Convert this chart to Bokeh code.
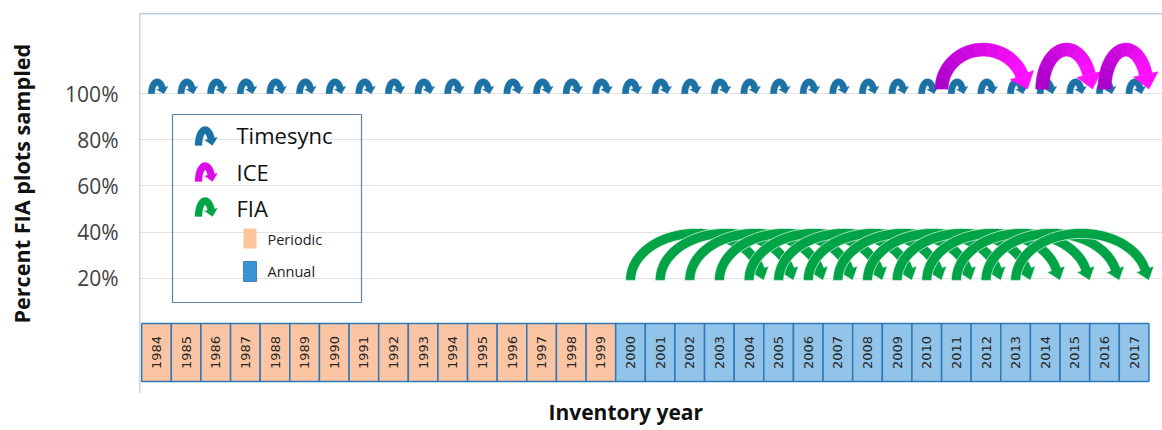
import numpy as np
from bokeh.plotting import figure
from bokeh.models import Range1d, FixedTicker, Title, Span, ColumnDataSource, LinearAxis
from bokeh.core.properties import value
from bokeh.embed import file_html
from bokeh.resources import INLINE

# ---------------- data ----------------
YEARS = list(range(1984, 2018))
PERIODIC_YEARS = list(range(1984, 2000))
ANNUAL_YEARS = list(range(2000, 2018))
TIMESYNC_YEARS = list(range(1984, 2018))
ICE_FROM = [2010.5, 2013.9, 2016.0]
ICE_TO = [2013.4, 2015.6, 2017.5]
FIA_FROM = list(range(2000, 2014))
FIA_TO = [2005, 2006, 2007, 2008, 2009, 2010, 2011, 2012, 2013, 2014, 2015, 2016, 2017, 2018]
TIMESYNC_LEVEL = 100
ICE_LEVEL = 102
FIA_LEVEL = 19
Y_TICKS = [20, 40, 60, 80, 100]
Y_TICK_LABELS = ["20%", "40%", "60%", "80%", "100%"]

# ---------------- geometry ----------------
W, H = 1162, 430
BL, BR, BT, BB = 139, 0, 13, 37
FRAME_W = W - BL - BR
FRAME_H = H - BT - BB
PX_X = 29.625        # px per year
PX_Y = 2.305         # px per percent
X_START = 1984 - 17 / PX_X
X_END = X_START + FRAME_W / PX_X
Y_END = (323.7 - 13) / PX_Y
Y_START = Y_END - FRAME_H / PX_Y


def px_x(page_x):
    return 1984 + (page_x - 156) / PX_X


def px_y(page_y):
    return (323.7 - page_y) / PX_Y


def arrow_geom(x_tail, x_tip, base, h, t, hw, hl, n=40):
    """curved arrow outline pieces; x in years, base in %, sizes in px"""
    L = (x_tip - x_tail) * PX_X
    b = h - t / 2.0

    def tip_for(a, te):
        ex = a + a * np.cos(te)
        ey = b * np.sin(te)
        dx, dy = a * np.sin(te), -b * np.cos(te)
        nn = np.hypot(dx, dy)
        return ex + hl * dx / nn, ey + hl * dy / nn

    def solve_a(te):
        lo, hi = 0.5, 2000.0
        for _ in range(60):
            mid = (lo + hi) / 2
            if tip_for(mid, te)[0] < L:
                lo = mid
            else:
                hi = mid
        return (lo + hi) / 2

    lo, hi = 0.02, 1.55
    for _ in range(50):
        mid = (lo + hi) / 2
        a = solve_a(mid)
        if tip_for(a, mid)[1] < 0:
            lo = mid
        else:
            hi = mid
    te = (lo + hi) / 2
    a = solve_a(te)

    th = np.linspace(np.pi, te, n)
    cx = a + a * np.cos(th)
    cy = b * np.sin(th)
    nx, ny = b * np.cos(th), a * np.sin(th)
    nn = np.hypot(nx, ny)
    nx, ny = nx / nn, ny / nn
    ox, oy = cx + t / 2 * nx, cy + t / 2 * ny
    ix, iy = cx - t / 2 * nx, cy - t / 2 * ny
    ex, ey = cx[-1], cy[-1]
    enx, eny = nx[-1], ny[-1]
    tx, ty = tip_for(a, te)
    hx = [ex + hw / 2 * enx, tx, ex - hw / 2 * enx]
    hy = [ey + hw / 2 * eny, ty, ey - hw / 2 * eny]

    def cvx(v):
        return [x_tail + q / PX_X for q in v]

    def cvy(v):
        return [base + q / PX_Y for q in v]

    return cvx(ox), cvy(oy), cvx(ix), cvy(iy), cvx(hx), cvy(hy)


def arrow(*args, **kw):
    ox, oy, ix, iy, hx, hy = arrow_geom(*args, **kw)
    return ox + hx + ix[::-1], oy + hy + iy[::-1]


def mix(c0, c1, f):
    a = [int(c0[i:i + 2], 16) for i in (1, 3, 5)]
    b = [int(c1[i:i + 2], 16) for i in (1, 3, 5)]
    return "#%02x%02x%02x" % tuple(int(round(a[k] + (b[k] - a[k]) * f)) for k in range(3))


p = figure(width=W, height=H, x_range=Range1d(X_START, X_END), y_range=Range1d(Y_START, Y_END),
           output_backend="svg", toolbar_location=None, x_axis_location=None,
           min_border_left=BL, min_border_right=BR, min_border_top=BT, min_border_bottom=BB)
p.background_fill_color = "white"
p.border_fill_color = "white"
p.outline_line_color = None
p.xgrid.grid_line_color = None

ticker = FixedTicker(ticks=Y_TICKS)
p.yaxis.ticker = ticker
p.yaxis.major_label_overrides = {t: l for t, l in zip(Y_TICKS, Y_TICK_LABELS)}
p.yaxis.axis_line_color = None
p.yaxis.major_tick_line_color = None
p.yaxis.minor_tick_line_color = None
p.yaxis.major_tick_out = 0
p.yaxis.major_label_standoff = 21
p.yaxis.major_label_text_font = "Open Sans"
p.yaxis.major_label_text_font_size = "21px"
p.yaxis.major_label_text_color = "#404040"
p.ygrid.ticker = ticker
p.ygrid.grid_line_color = "#C4C4C4"
p.ygrid.grid_line_dash = "1 1"

# frame borders (top and left)
p.add_layout(Span(location=Y_END, dimension="width", line_color="#7FA2C0", line_width=1.5))
p.add_layout(Span(location=X_START, dimension="height", line_color="#8FB0CC", line_width=1.5))

# year boxes
box_top, box_bot = px_y(323), px_y(381)
fills = ["#FBC5A3" if y in PERIODIC_YEARS else "#92C3E9" for y in YEARS]
src = ColumnDataSource(dict(x=YEARS, y=[(box_top + box_bot) / 2] * len(YEARS),
                            fill=fills, lab=[str(y) for y in YEARS]))
p.rect(x="x", y="y", width=1, height=box_top - box_bot, source=src,
       fill_color="fill", line_color="#2F79B9", line_width=1.5)
p.text(x="x", y="y", text="lab", source=src, angle=np.pi / 2, text_align="center",
       text_baseline="middle", text_font=value("DejaVu Sans"), text_font_size="13px",
       text_color="#262626")

# FIA arrows
fx, fy = [], []
for s, e in zip(FIA_FROM, FIA_TO):
    xs, ys = arrow(s, e - 0.5, FIA_LEVEL, 52, 10, 19, 12)
    fx.append(xs)
    fy.append(ys)
p.patches(fx, fy, fill_color="#00A346", line_color="#E6F6EC", line_width=0.7)

# Timesync arrows
tx, ty = [], []
for yv in TIMESYNC_YEARS:
    xs, ys = arrow(yv - 0.17, yv + 0.25, TIMESYNC_LEVEL, 15, 6.5, 12, 6)
    tx.append(xs)
    ty.append(ys)
p.patches(tx, ty, fill_color="#1C72A5", line_color="#1C72A5", line_width=0.3)

# ICE arrows (purple -> magenta shading along the arc)
C0, C1 = "#A800C8", "#FF10FF"
gx, gy, gc = [], [], []
for s, e in zip(ICE_FROM, ICE_TO):
    ox, oy, ix_, iy_, hx, hy = arrow_geom(s, e, ICE_LEVEL, 46, 13, 25, 15, n=31)
    step = 3
    for k in range(0, len(ox) - 1, step):
        k2 = min(k + step, len(ox) - 1)
        gx.append(ox[k:k2 + 1] + ix_[k:k2 + 1][::-1])
        gy.append(oy[k:k2 + 1] + iy_[k:k2 + 1][::-1])
        gc.append(mix(C0, C1, (k + step / 2) / (len(ox) - 1)))
    gx.append(hx)
    gy.append(hy)
    gc.append(C1)
p.patches(gx, gy, fill_color=gc, line_color=gc, line_width=0.6)

# ---------------- legend ----------------
p.quad(left=[px_x(172)], right=[px_x(361)], top=[px_y(114)], bottom=[px_y(302)],
       fill_color=None, line_color="#5A83A6", line_width=1.2)
leg_icons = [("#1C72A5", 145), ("#DD0AE8", 181), ("#00A346", 216)]
for col, base_px in leg_icons:
    xs, ys = arrow(px_x(198), px_x(212), px_y(base_px), 19, 7, 13, 7)
    p.patch(xs, ys, fill_color=col, line_color=col, line_width=0.3)
p.text(x=[px_x(236)] * 3, y=[px_y(134), px_y(171), px_y(207)], text=["Timesync", "ICE", "FIA"],
       text_align="left", text_baseline="middle", text_font=value("Open Sans"),
       text_font_size="22px", text_color="#111111")
p.quad(left=[px_x(243), px_x(243)], right=[px_x(256), px_x(256)],
       top=[px_y(228), px_y(261)], bottom=[px_y(248), px_y(281)],
       fill_color=["#FDC59C", "#3A95D6"], line_color=[None, "#2F6FA8"], line_width=0.8)
p.text(x=[px_x(267)] * 2, y=[px_y(239), px_y(271)], text=["Periodic", "Annual"],
       text_align="left", text_baseline="middle", text_font=value("Open Sans"),
       text_font_size="14.5px", text_color="#222222")

# spacer between tick labels and the vertical title
spacer = LinearAxis(ticker=FixedTicker(ticks=[]), axis_line_color=None,
                    major_tick_line_color=None, minor_tick_line_color=None,
                    major_tick_out=0, major_tick_in=0, minor_tick_out=0, minor_tick_in=0,
                    major_label_standoff=0, axis_label="\u00a0", axis_label_standoff=20,
                    axis_label_text_font_size="1px")
p.add_layout(spacer, "left")

# axis titles
p.add_layout(Title(text="Percent FIA plots sampled", align="left", offset=70,
                   text_font="Open Sans", text_font_size="21.6px", text_font_style="bold",
                   text_color="#111111", standoff=6), "left")
p.add_layout(Title(text="Inventory year", align="left", offset=409, vertical_align="bottom",
                   text_font="Open Sans", text_font_size="21px", text_font_style="bold",
                   text_color="#111111", standoff=4), "below")

open("out.html", "w").write(file_html(p, INLINE))
